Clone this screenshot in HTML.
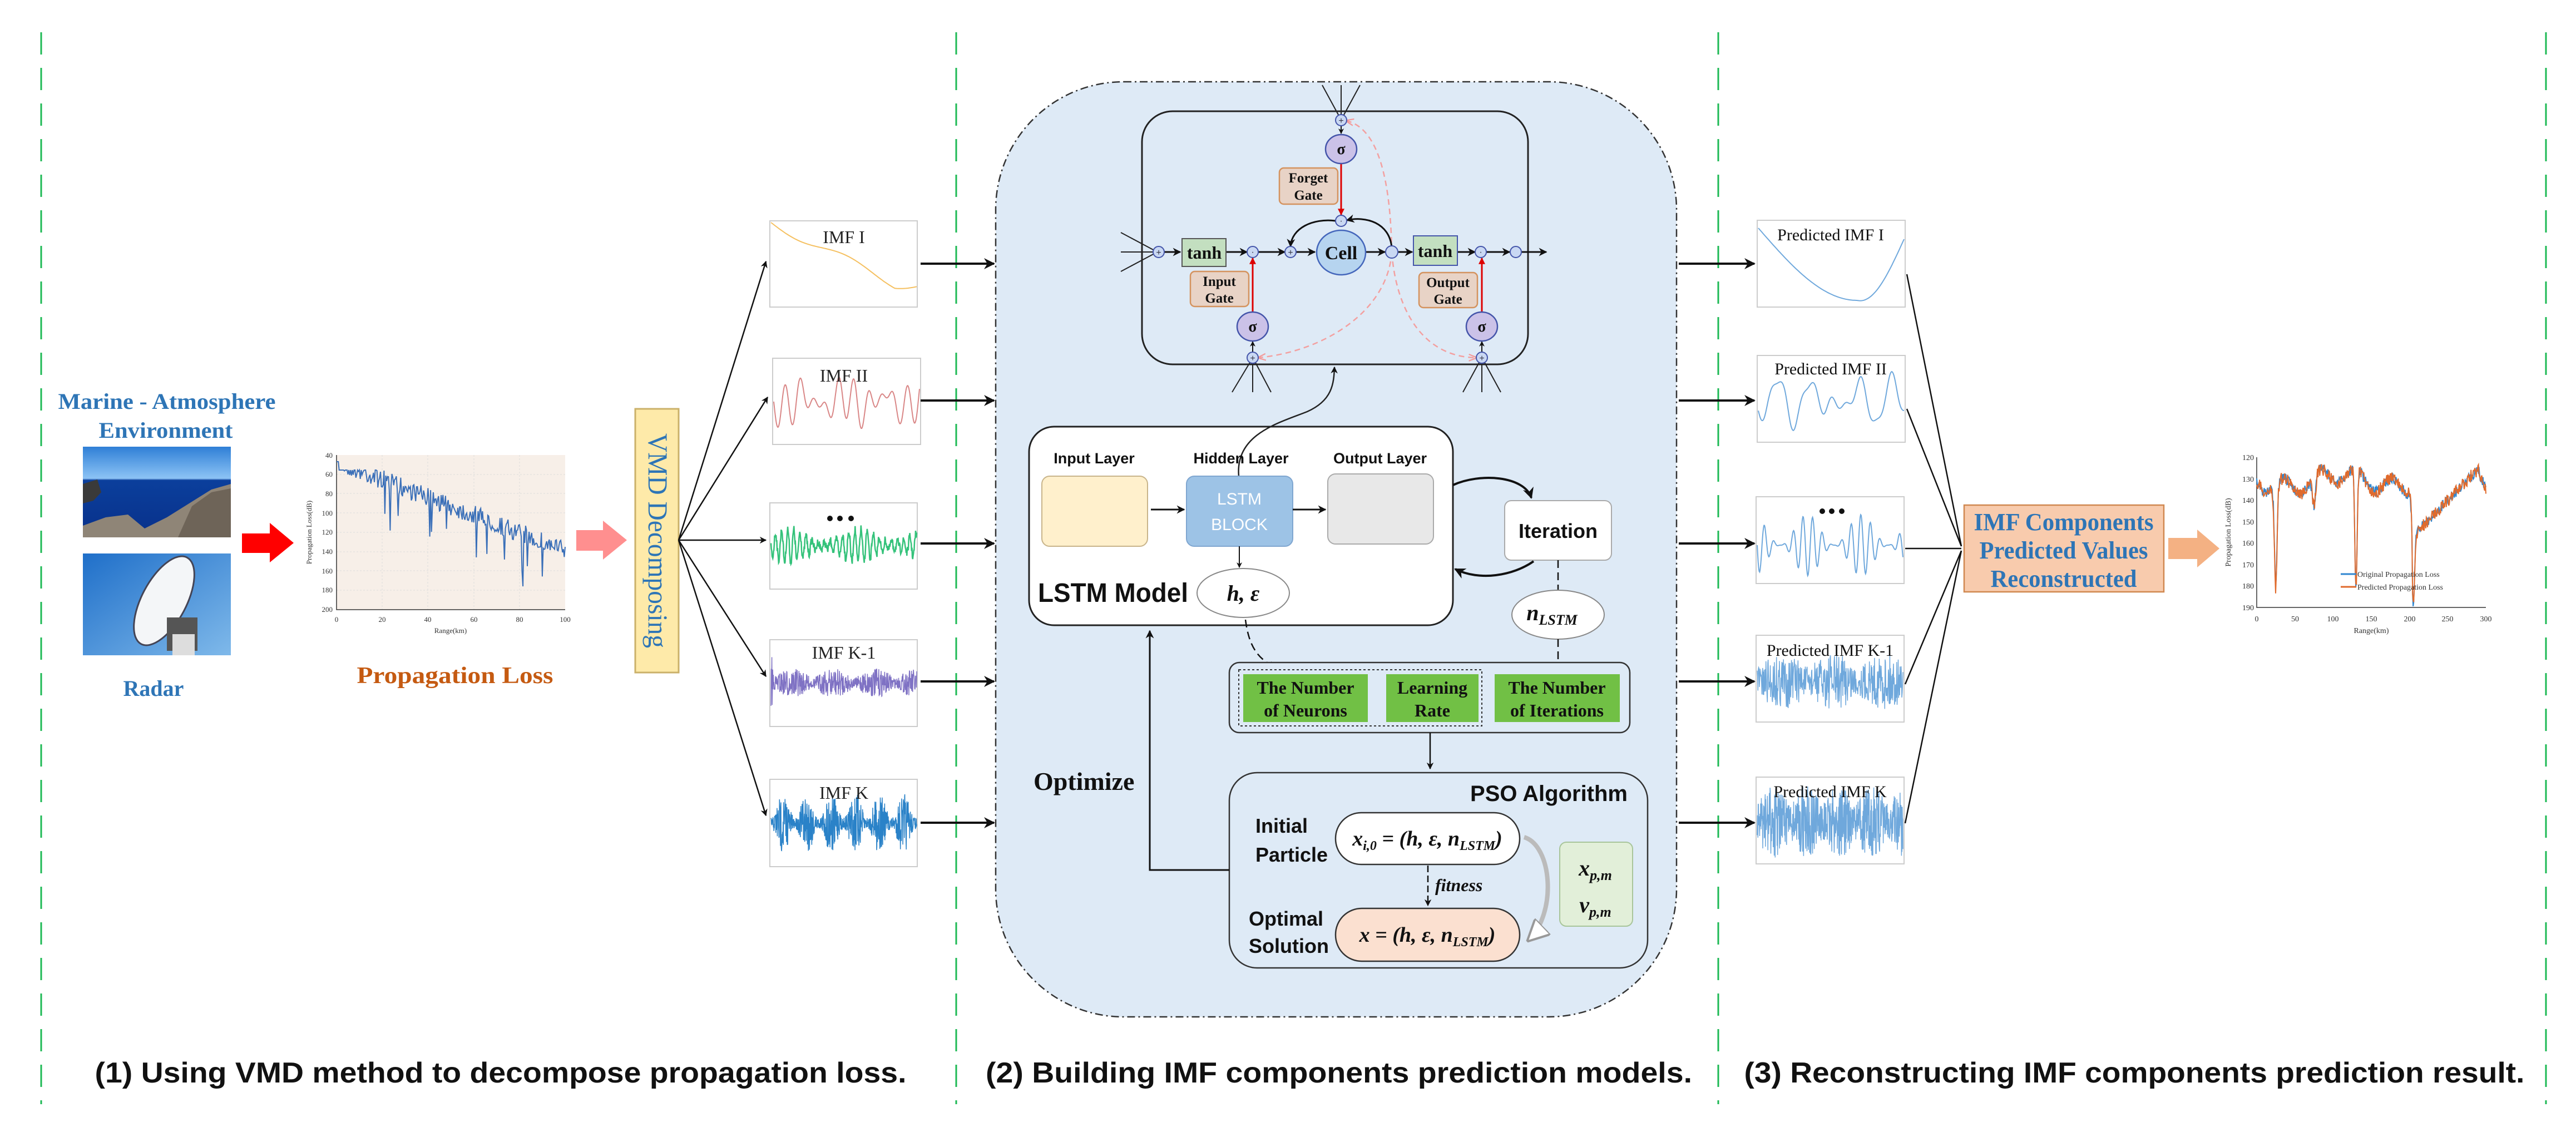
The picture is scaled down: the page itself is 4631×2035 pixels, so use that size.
<!DOCTYPE html>
<html><head><meta charset="utf-8"><style>
html,body{margin:0;padding:0;background:#fff;}
svg{display:block;}
.serif{font-family:"Liberation Serif",serif;}
.sans{font-family:"Liberation Sans",sans-serif;}
</style></head><body>
<svg id="s" width="4631" height="2035" viewBox="0 0 4631 2035" xmlns="http://www.w3.org/2000/svg">
<defs>
<marker id="ah" viewBox="0 0 10 10" refX="9" refY="5" markerWidth="5" markerHeight="5" orient="auto-start-reverse"><path d="M0,0 L10,5 L0,10 L3,5 z" fill="#111"/></marker>
<marker id="ahr" viewBox="0 0 10 10" refX="9" refY="5" markerWidth="4" markerHeight="4" orient="auto"><path d="M0,0 L10,5 L0,10 z" fill="#d00"/></marker>
<marker id="ahp" viewBox="0 0 10 10" refX="9" refY="5" markerWidth="6" markerHeight="6" orient="auto"><path d="M0,1 L10,5 L0,9" fill="none" stroke="#f39a9a" stroke-width="1.5"/></marker>
<marker id="ahg" viewBox="0 0 10 10" refX="9" refY="5" markerWidth="5" markerHeight="5" orient="auto"><path d="M0,0 L10,5 L0,10 z" fill="#fff" stroke="#999"/></marker>
<linearGradient id="sky" x1="0" y1="0" x2="0" y2="1"><stop offset="0" stop-color="#2f7fd6"/><stop offset="0.35" stop-color="#8cc3f5"/><stop offset="0.37" stop-color="#0b3f9c"/><stop offset="1" stop-color="#08308a"/></linearGradient>
<linearGradient id="sky2" x1="0" y1="0" x2="1" y2="1"><stop offset="0" stop-color="#1f6fc9"/><stop offset="1" stop-color="#7fb9ea"/></linearGradient>
</defs>

<g stroke="#1db954" stroke-width="3" stroke-dasharray="40,24">
<line x1="74" y1="58" x2="74" y2="1985"/>
<line x1="1719" y1="58" x2="1719" y2="1985"/>
<line x1="3089" y1="58" x2="3089" y2="1985"/>
<line x1="4577" y1="58" x2="4577" y2="1985"/>
</g>

<text class="serif" x="300" y="735" font-size="40" font-weight="bold" fill="#2e75b6" text-anchor="middle" textLength="391" lengthAdjust="spacingAndGlyphs">Marine - Atmosphere</text>
<text class="serif" x="298" y="787" font-size="40" font-weight="bold" fill="#2e75b6" text-anchor="middle" textLength="241" lengthAdjust="spacingAndGlyphs">Environment</text>
<rect x="149" y="803" width="266" height="163" fill="url(#sky)"/>
<path d="M149,870 L175,862 L182,885 L168,900 L149,905 Z" fill="#3a3a3a"/>
<path d="M149,966 L149,945 L190,930 L230,925 L260,950 L300,930 L340,905 L380,880 L415,870 L415,966 Z" fill="#8f8577"/>
<path d="M320,966 L345,910 L380,885 L415,878 L415,966 Z" fill="#6e6458"/>
<rect x="149" y="995" width="266" height="183" fill="url(#sky2)"/>
<ellipse cx="295" cy="1080" rx="40" ry="88" transform="rotate(28 295 1080)" fill="#f4f6f8" stroke="#445" stroke-width="3"/>
<rect x="300" y="1110" width="55" height="60" fill="#555"/>
<rect x="310" y="1140" width="40" height="38" fill="#ddd"/>
<text class="serif" x="276" y="1251" font-size="40" font-weight="bold" fill="#2e75b6" text-anchor="middle">Radar</text>
<path d="M435,959 L485,959 L485,940 L528,976 L485,1011 L485,994 L435,994 Z" fill="#f00"/>
<rect x="605" y="818" width="411" height="278" fill="#f7efe8"/>
<g stroke="#ddd" stroke-width="1" stroke-dasharray="3,3">
<line x1="605" y1="853" x2="1016" y2="853"/><line x1="605" y1="887" x2="1016" y2="887"/><line x1="605" y1="922" x2="1016" y2="922"/><line x1="605" y1="957" x2="1016" y2="957"/><line x1="605" y1="992" x2="1016" y2="992"/><line x1="605" y1="1026" x2="1016" y2="1026"/><line x1="605" y1="1061" x2="1016" y2="1061"/>
<line x1="687" y1="818" x2="687" y2="1096"/><line x1="769" y1="818" x2="769" y2="1096"/><line x1="852" y1="818" x2="852" y2="1096"/><line x1="934" y1="818" x2="934" y2="1096"/>
</g>
<path d="M605,818 L605,1096 L1016,1096" fill="none" stroke="#333" stroke-width="1.5"/>
<path id="pl" fill="none" stroke="#3a6fb8" stroke-width="2"/>
<g class="serif" font-size="13" fill="#333" text-anchor="end">
<text x="598" y="823">40</text><text x="598" y="857">60</text><text x="598" y="892">80</text><text x="598" y="927">100</text><text x="598" y="961">120</text><text x="598" y="996">140</text><text x="598" y="1031">160</text><text x="598" y="1065">180</text><text x="598" y="1100">200</text>
</g>
<g class="serif" font-size="13" fill="#333" text-anchor="middle">
<text x="605" y="1118">0</text><text x="687" y="1118">20</text><text x="769" y="1118">40</text><text x="852" y="1118">60</text><text x="934" y="1118">80</text><text x="1016" y="1118">100</text>
<text x="810" y="1138">Range(km)</text>
<text transform="translate(560 957) rotate(-90)">Propagation Loss(dB)</text>
</g>
<text class="serif" x="818" y="1228" font-size="42" font-weight="bold" fill="#c55a11" text-anchor="middle" textLength="353" lengthAdjust="spacingAndGlyphs">Propagation Loss</text>
<path d="M1036,953 L1084,953 L1084,936 L1127,971 L1084,1006 L1084,990 L1036,990 Z" fill="#ff8f8f"/>
<rect x="1142" y="735" width="78" height="474" fill="#feeaa9" stroke="#cbb16a" stroke-width="3"/>
<text class="serif" transform="translate(1166 972) rotate(90)" font-size="50" fill="#2e75b6" text-anchor="middle" textLength="386" lengthAdjust="spacingAndGlyphs">VMD Decomposing</text>
<g stroke="#111" stroke-width="2.5" fill="none" marker-end="url(#ah)">
<line x1="1220" y1="971" x2="1377" y2="470"/>
<line x1="1220" y1="971" x2="1380" y2="714"/>
<line x1="1220" y1="971" x2="1377" y2="971"/>
<line x1="1220" y1="971" x2="1377" y2="1216"/>
<line x1="1220" y1="971" x2="1377" y2="1466"/>
</g>
<g fill="#fff" stroke="#ccc" stroke-width="2">
<rect x="1384" y="397" width="265" height="155"/>
<rect x="1389" y="644" width="266" height="155"/>
<rect x="1384" y="904" width="265" height="155"/>
<rect x="1384" y="1150" width="265" height="156"/>
<rect x="1384" y="1401" width="265" height="157"/>
</g>
<path id="w1" fill="none" stroke="#f5c060" stroke-width="2"/>
<path id="w2" fill="none" stroke="#d98686" stroke-width="2"/>
<path id="w3" fill="none" stroke="#34c27a" stroke-width="2.5"/>
<path id="w4" fill="none" stroke="#7f72c4" stroke-width="1.5"/>
<path id="w5" fill="none" stroke="#2a82c8" stroke-width="1.5"/>
<g class="serif" font-size="32" fill="#222" text-anchor="middle">
<text x="1517" y="437">IMF I</text>
<text x="1517" y="686">IMF II</text>
<text x="1517" y="1184">IMF K-1</text>
<text x="1517" y="1436">IMF K</text>
</g>
<g fill="#111"><circle cx="1492" cy="932" r="5"/><circle cx="1510" cy="932" r="5"/><circle cx="1530" cy="932" r="5"/></g>
<g stroke="#111" stroke-width="4" marker-end="url(#ah)">
<line x1="1655" y1="474" x2="1787" y2="474"/>
<line x1="1655" y1="720" x2="1787" y2="720"/>
<line x1="1655" y1="977" x2="1787" y2="977"/>
<line x1="1655" y1="1225" x2="1787" y2="1225"/>
<line x1="1655" y1="1479" x2="1787" y2="1479"/>
</g>

<rect x="1790" y="147" width="1224" height="1681" rx="230" fill="#deeaf6" stroke="#333" stroke-width="2.5" stroke-dasharray="14,6,3,6"/>
<rect x="2053" y="200" width="694" height="455" rx="55" fill="none" stroke="#222" stroke-width="3"/>
<g stroke="#222" stroke-width="2" fill="none">
<line x1="2377" y1="153" x2="2408" y2="210"/><line x1="2411" y1="153" x2="2411" y2="208"/><line x1="2445" y1="153" x2="2414" y2="210"/>
<line x1="2015" y1="418" x2="2075" y2="450"/><line x1="2015" y1="453" x2="2074" y2="453"/><line x1="2015" y1="488" x2="2075" y2="456"/>
<line x1="2215" y1="705" x2="2248" y2="650"/><line x1="2252" y1="705" x2="2252" y2="651"/><line x1="2285" y1="705" x2="2256" y2="650"/>
<line x1="2630" y1="705" x2="2660" y2="650"/><line x1="2664" y1="705" x2="2664" y2="651"/><line x1="2698" y1="705" x2="2668" y2="650"/>
</g>
<g stroke="#f3a0a0" stroke-width="2.5" fill="none" stroke-dasharray="10,7">
<path d="M2502,453 C2495,560 2380,632 2262,643" marker-end="url(#ahp)"/>
<path d="M2502,453 C2510,560 2560,642 2654,643" marker-end="url(#ahp)"/>
<path d="M2502,453 C2500,330 2480,230 2420,217" marker-end="url(#ahp)"/>
</g>
<g stroke="#111" stroke-width="3" fill="none" marker-end="url(#ah)">
<line x1="2093" y1="453" x2="2122" y2="453"/>
<line x1="2204" y1="453" x2="2242" y2="453"/>
<line x1="2262" y1="453" x2="2310" y2="453"/>
<line x1="2330" y1="453" x2="2364" y2="453"/>
<line x1="2456" y1="453" x2="2490" y2="453"/>
<line x1="2514" y1="453" x2="2539" y2="453"/>
<line x1="2620" y1="453" x2="2652" y2="453"/>
<line x1="2672" y1="453" x2="2714" y2="453"/>
<line x1="2736" y1="453" x2="2780" y2="453"/>
<path d="M2502,445 C2498,400 2455,388 2421,396"/>
<path d="M2401,397 C2360,392 2322,410 2320,443"/>
<line x1="2411" y1="226" x2="2411" y2="240" stroke-width="2"/>
<line x1="2252" y1="633" x2="2252" y2="614" stroke-width="2"/>
<line x1="2664" y1="633" x2="2664" y2="614" stroke-width="2"/>
</g>
<g stroke="#d00" stroke-width="3" marker-end="url(#ahr)">
<line x1="2411" y1="295" x2="2411" y2="386"/>
<line x1="2252" y1="560" x2="2252" y2="464"/>
<line x1="2664" y1="560" x2="2664" y2="464"/>
</g>
<g fill="#c9d8f3" stroke="#4455aa" stroke-width="2">
<circle cx="2083" cy="453" r="10"/><circle cx="2252" cy="453" r="10"/><circle cx="2320" cy="453" r="10"/><circle cx="2502" cy="453" r="11"/><circle cx="2662" cy="453" r="10"/><circle cx="2725" cy="453" r="10"/>
<circle cx="2411" cy="216" r="10"/><circle cx="2411" cy="397" r="10"/><circle cx="2252" cy="643" r="10"/><circle cx="2664" cy="643" r="10"/>
</g>
<g class="sans" font-size="16" fill="#334" text-anchor="middle">
<text x="2083" y="459">+</text><text x="2320" y="459">+</text><text x="2411" y="222">+</text><text x="2252" y="649">+</text><text x="2664" y="649">+</text>
<text x="2252" y="458">·</text><text x="2411" y="402">·</text><text x="2662" y="458">·</text>
</g>
<rect x="2125" y="429" width="79" height="50" fill="#c3dfc0" stroke="#555" stroke-width="2"/>
<rect x="2541" y="424" width="79" height="53" fill="#c3dfc0" stroke="#4455aa" stroke-width="2"/>
<g class="serif" font-weight="bold" font-size="32" fill="#111" text-anchor="middle">
<text x="2165" y="465">tanh</text><text x="2580" y="462">tanh</text>
</g>
<ellipse cx="2411" cy="454" rx="44" ry="40" fill="#b6d4ef" stroke="#4466bb" stroke-width="2.5"/>
<text class="serif" x="2411" y="466" font-size="34" font-weight="bold" fill="#111" text-anchor="middle">Cell</text>
<g fill="#cbc2e8" stroke="#4455aa" stroke-width="2.5">
<ellipse cx="2411" cy="268" rx="28" ry="26"/><ellipse cx="2252" cy="587" rx="28" ry="26"/><ellipse cx="2664" cy="587" rx="28" ry="26"/>
</g>
<g class="serif" font-weight="bold" font-size="28" fill="#111" text-anchor="middle">
<text x="2411" y="277">σ</text><text x="2252" y="596">σ</text><text x="2664" y="596">σ</text>
</g>
<g fill="#e8d3c6" stroke="#d4935f" stroke-width="2.5">
<rect x="2300" y="302" width="105" height="65" rx="8"/>
<rect x="2140" y="488" width="105" height="63" rx="8"/>
<rect x="2551" y="490" width="105" height="63" rx="8"/>
</g>
<g class="serif" font-weight="bold" font-size="25" fill="#111" text-anchor="middle">
<text x="2352" y="328">Forget</text><text x="2352" y="359">Gate</text>
<text x="2192" y="514">Input</text><text x="2192" y="544">Gate</text>
<text x="2603" y="516">Output</text><text x="2603" y="546">Gate</text>
</g>
<rect x="1850" y="767" width="762" height="357" rx="45" fill="#fff" stroke="#222" stroke-width="3"/>
<path d="M2227,856 C2220,780 2300,760 2350,740 C2395,720 2398,690 2399,660" fill="none" stroke="#222" stroke-width="2.5" marker-end="url(#ah)"/>
<g class="sans" font-weight="bold" font-size="27" fill="#111" text-anchor="middle">
<text x="1967" y="833">Input Layer</text><text x="2231" y="833">Hidden Layer</text><text x="2481" y="833">Output Layer</text>
</g>
<rect x="1873" y="856" width="190" height="126" rx="14" fill="#fff0cc" stroke="#c8b48a" stroke-width="2"/>
<rect x="2133" y="856" width="191" height="126" rx="14" fill="#9dc3e6" stroke="#7fa6d0" stroke-width="2"/>
<rect x="2387" y="852" width="190" height="126" rx="14" fill="#e8e8e8" stroke="#aaa" stroke-width="2"/>
<g class="sans" font-size="30" fill="#fff" text-anchor="middle"><text x="2228" y="907">LSTM</text><text x="2228" y="953">BLOCK</text></g>
<g stroke="#111" stroke-width="3" marker-end="url(#ah)">
<line x1="2069" y1="916" x2="2129" y2="916"/>
<line x1="2324" y1="916" x2="2383" y2="916"/>
<line x1="2228" y1="982" x2="2228" y2="1020" stroke-width="2"/>
</g>
<text class="sans" x="1866" y="1082" font-size="48" font-weight="bold" fill="#111" textLength="270" lengthAdjust="spacingAndGlyphs">LSTM Model</text>
<ellipse cx="2235" cy="1066" rx="83" ry="44" fill="#fff" stroke="#888" stroke-width="2"/>
<text class="serif" x="2235" y="1080" font-size="40" font-weight="bold" font-style="italic" fill="#111" text-anchor="middle">h, ε</text>
<rect x="2705" y="900" width="192" height="107" rx="12" fill="#fff" stroke="#aaa" stroke-width="2"/>
<text class="sans" x="2801" y="967" font-size="36" font-weight="bold" fill="#111" text-anchor="middle">Iteration</text>
<path d="M2612,872 C2660,850 2740,855 2753,895" fill="none" stroke="#111" stroke-width="4" marker-end="url(#ah)"/>
<path d="M2757,1009 C2720,1035 2660,1045 2616,1023" fill="none" stroke="#111" stroke-width="4" marker-end="url(#ah)"/>
<line x1="2801" y1="1007" x2="2801" y2="1061" stroke="#111" stroke-width="2.5" stroke-dasharray="14,8"/>
<ellipse cx="2801" cy="1105" rx="83" ry="44" fill="#fff" stroke="#888" stroke-width="2"/>
<text class="serif" x="2790" y="1115" font-size="40" font-weight="bold" font-style="italic" fill="#111" text-anchor="middle">n<tspan font-size="26" dy="8">LSTM</tspan></text>
<line x1="2801" y1="1149" x2="2801" y2="1203" stroke="#111" stroke-width="2.5" stroke-dasharray="14,8" marker-end="url(#ah)"/>
<path d="M2239,1114 C2245,1160 2260,1185 2293,1199" fill="none" stroke="#111" stroke-width="2.5" stroke-dasharray="14,8" marker-end="url(#ah)"/>
<rect x="2210" y="1191" width="720" height="126" rx="18" fill="#deeaf6" stroke="#333" stroke-width="2.5"/>
<rect x="2227" y="1204" width="437" height="101" fill="none" stroke="#333" stroke-width="2" stroke-dasharray="4,4"/>
<g fill="#71c045"><rect x="2235" y="1212" width="224" height="86"/><rect x="2492" y="1212" width="166" height="86"/><rect x="2687" y="1212" width="225" height="86"/></g>
<g class="serif" font-weight="bold" font-size="32" fill="#111" text-anchor="middle">
<text x="2347" y="1247">The Number</text><text x="2347" y="1288">of Neurons</text>
<text x="2575" y="1247">Learning</text><text x="2575" y="1288">Rate</text>
<text x="2799" y="1247">The Number</text><text x="2799" y="1288">of Iterations</text>
</g>
<line x1="2571" y1="1317" x2="2571" y2="1382" stroke="#111" stroke-width="2.5" marker-end="url(#ah)"/>
<rect x="2210" y="1389" width="752" height="351" rx="50" fill="#deeaf6" stroke="#333" stroke-width="2.5"/>
<text class="sans" x="2926" y="1440" font-size="40" font-weight="bold" fill="#111" text-anchor="end">PSO Algorithm</text>
<g class="sans" font-weight="bold" font-size="36" fill="#111">
<text x="2257" y="1497">Initial</text><text x="2257" y="1549">Particle</text>
<text x="2245" y="1664">Optimal</text><text x="2245" y="1713">Solution</text>
</g>
<rect x="2401" y="1461" width="331" height="93" rx="46" fill="#fff" stroke="#333" stroke-width="2.5"/>
<rect x="2401" y="1633" width="331" height="95" rx="47" fill="#fbe0d0" stroke="#333" stroke-width="2.5"/>
<text class="serif" x="2566" y="1520" font-size="38" font-weight="bold" font-style="italic" fill="#111" text-anchor="middle">x<tspan font-size="24" dy="8">i,0</tspan><tspan dy="-8"> = (h, ε, n</tspan><tspan font-size="24" dy="8">LSTM</tspan><tspan dy="-8">)</tspan></text>
<text class="serif" x="2566" y="1693" font-size="38" font-weight="bold" font-style="italic" fill="#111" text-anchor="middle">x = (h, ε, n<tspan font-size="24" dy="8">LSTM</tspan><tspan dy="-8">)</tspan></text>
<line x1="2567" y1="1556" x2="2567" y2="1628" stroke="#111" stroke-width="2.5" stroke-dasharray="12,6" marker-end="url(#ah)"/>
<text class="serif" x="2580" y="1602" font-size="32" font-weight="bold" font-style="italic" fill="#111">fitness</text>
<rect x="2804" y="1514" width="131" height="151" rx="12" fill="#e2efd9" stroke="#a8c59a" stroke-width="2"/>
<text class="serif" x="2868" y="1574" font-size="40" font-weight="bold" font-style="italic" fill="#111" text-anchor="middle">x<tspan font-size="26" dy="8">p,m</tspan></text>
<text class="serif" x="2868" y="1640" font-size="40" font-weight="bold" font-style="italic" fill="#111" text-anchor="middle">v<tspan font-size="26" dy="8">p,m</tspan></text>
<path d="M2740,1505 C2790,1520 2800,1640 2748,1690" fill="none" stroke="#bbb" stroke-width="8" marker-end="url(#ahg)"/>
<text class="serif" x="1858" y="1420" font-size="46" font-weight="bold" fill="#111">Optimize</text>
<path d="M2210,1564 L2067,1564 L2067,1134" fill="none" stroke="#111" stroke-width="3" marker-end="url(#ah)"/>

<g stroke="#111" stroke-width="4" marker-end="url(#ah)">
<line x1="3018" y1="474" x2="3154" y2="474"/>
<line x1="3018" y1="720" x2="3154" y2="720"/>
<line x1="3018" y1="977" x2="3154" y2="977"/>
<line x1="3018" y1="1225" x2="3154" y2="1225"/>
<line x1="3018" y1="1479" x2="3154" y2="1479"/>
</g>
<g fill="#fff" stroke="#ccc" stroke-width="2">
<rect x="3159" y="396" width="266" height="156"/>
<rect x="3159" y="639" width="266" height="156"/>
<rect x="3157" y="893" width="266" height="156"/>
<rect x="3157" y="1142" width="266" height="156"/>
<rect x="3157" y="1397" width="266" height="156"/>
</g>
<path id="p1" fill="none" stroke="#6fa8dc" stroke-width="2"/>
<path id="p2" fill="none" stroke="#6fa8dc" stroke-width="2"/>
<path id="p3" fill="none" stroke="#6fa8dc" stroke-width="2"/>
<path id="p4" fill="none" stroke="#6fa8dc" stroke-width="1.5"/>
<path id="p5" fill="none" stroke="#6fa8dc" stroke-width="1.5"/>
<g class="serif" font-size="30" fill="#111" text-anchor="middle">
<text x="3291" y="432">Predicted IMF I</text>
<text x="3291" y="673">Predicted IMF II</text>
<text x="3290" y="1179">Predicted IMF K-1</text>
<text x="3290" y="1433">Predicted IMF K</text>
</g>
<g fill="#111"><circle cx="3276" cy="919" r="5"/><circle cx="3293" cy="919" r="5"/><circle cx="3311" cy="919" r="5"/></g>
<g stroke="#111" stroke-width="2.5" fill="none">
<line x1="3428" y1="493" x2="3526" y2="982"/>
<line x1="3428" y1="735" x2="3526" y2="982"/>
<line x1="3425" y1="986" x2="3526" y2="986"/>
<line x1="3425" y1="1230" x2="3526" y2="990"/>
<line x1="3425" y1="1480" x2="3526" y2="990"/>
</g>
<rect x="3531" y="908" width="359" height="156" fill="#f8cbad" stroke="#d08850" stroke-width="2.5"/>
<g class="serif" font-size="44" font-weight="bold" fill="#2e75b6" text-anchor="middle">
<text x="3710" y="953" textLength="323" lengthAdjust="spacingAndGlyphs">IMF Components</text>
<text x="3710" y="1004" textLength="303" lengthAdjust="spacingAndGlyphs">Predicted Values</text>
<text x="3710" y="1055" textLength="263" lengthAdjust="spacingAndGlyphs">Reconstructed</text>
</g>
<path d="M3898,967 L3950,967 L3950,952 L3990,986 L3950,1020 L3950,1005 L3898,1005 Z" fill="#f4b183"/>
<path d="M4057,822 L4057,1092 L4469,1092" fill="none" stroke="#333" stroke-width="1.5"/>
<path id="fo" fill="none" stroke="#2e86d0" stroke-width="2"/>
<path id="fp" fill="none" stroke="#e06a2c" stroke-width="2"/>
<g class="serif" font-size="14" fill="#333" text-anchor="end">
<text x="4052" y="827">120</text><text x="4052" y="866">130</text><text x="4052" y="904">140</text><text x="4052" y="943">150</text><text x="4052" y="981">160</text><text x="4052" y="1020">170</text><text x="4052" y="1058">180</text><text x="4052" y="1097">190</text>
</g>
<g class="serif" font-size="14" fill="#333" text-anchor="middle">
<text x="4057" y="1117">0</text><text x="4126" y="1117">50</text><text x="4194" y="1117">100</text><text x="4263" y="1117">150</text><text x="4332" y="1117">200</text><text x="4400" y="1117">250</text><text x="4469" y="1117">300</text>
<text x="4263" y="1138">Range(km)</text>
<text transform="translate(4010 957) rotate(-90)">Propagation Loss(dB)</text>
</g>
<line x1="4208" y1="1032" x2="4236" y2="1032" stroke="#2e86d0" stroke-width="3"/>
<line x1="4208" y1="1055" x2="4236" y2="1055" stroke="#e06a2c" stroke-width="3"/>
<g class="serif" font-size="14" fill="#333"><text x="4238" y="1037">Original Propagation Loss</text><text x="4238" y="1060">Predicted Propagation Loss</text></g>

<g class="sans" font-weight="bold" font-size="52" fill="#111" text-anchor="middle">
<text x="900" y="1946" textLength="1459" lengthAdjust="spacingAndGlyphs">(1) Using VMD method to decompose propagation loss.</text>
<text x="2407" y="1946" textLength="1270" lengthAdjust="spacingAndGlyphs">(2) Building IMF components prediction models.</text>
<text x="3837" y="1946" textLength="1403" lengthAdjust="spacingAndGlyphs">(3) Reconstructing IMF components prediction result.</text>
</g>
</svg>
<script>
var seed=7;function r(){seed=(seed*16807)%2147483647;return seed/2147483647;}
function P(id,x0,w,f,n){var d='';for(var i=0;i<=n;i++){var t=i/n;var y=f(t,i);d+=(i?'L':'M')+(x0+t*w).toFixed(1)+','+y.toFixed(1);}document.getElementById(id).setAttribute('d',d);}
P('pl',605,411,function(t){var b=850+t*160;if(t<0.01)return 830;var v=b-20+(r()-0.5)*35; if(r()<0.05)v+=50+r()*40; return Math.min(1085,Math.max(845,v));},260);
P('w1',1386,262,function(t){return 400+t*130+8*Math.sin(t*9)+(t>0.85?-(t-0.85)*120:0);},80);
P('w2',1391,262,function(t){return 722+42*Math.sin(t*60)*Math.sin(t*7+1)+12*Math.sin(t*23);},260);
P('w3',1386,262,function(t){return 981+30*Math.sin(t*150)*(0.6+0.4*Math.sin(t*13))+(r()-0.5)*15;},400);
P('w4',1386,262,function(t){var a=8+18*Math.abs(Math.sin(t*11));if(t<0.02)a=50;return 1228+(r()-0.5)*2*a;},500);
P('w5',1386,262,function(t){var a=10+45*Math.pow(Math.abs(Math.sin(t*19)),2);return 1480+(r()-0.5)*2*a;},600);
P('p1',3161,262,function(t){var m=0.68;var u=t<m?t/m:(1-t)/(1-m);return 540-130*(1-Math.sin(u*Math.PI/2))+ (t<m?0:20*(1-u));},120);
P('p2',3161,262,function(t){return 720+45*Math.sin(t*28+1)*Math.sin(t*5+0.5)+10*Math.sin(t*60);},200);
P('p3',3159,262,function(t){return 980+55*Math.sin(t*95)*(0.5+0.5*Math.sin(t*17+2));},300);
P('p4',3159,262,function(t){return 1225+(r()-0.5)*2*(25+25*Math.abs(Math.sin(t*9)));},400);
P('p5',3159,262,function(t){return 1478+(r()-0.5)*2*(30+35*Math.abs(Math.sin(t*14)));},600);
function g(t,c,w,h){return h*Math.exp(-Math.pow((t-c)/w,2));}
function db(t){var v;
 if(t<0.68){v=131+4*Math.sin(t*40)+3*Math.sin(t*13);}
 else{var u=(t-0.68)/0.29;v=157-32*Math.min(1,u);if(t>0.97)v=128+(t-0.97)*200;}
 v+=g(t,0.083,0.008,48)+g(t,0.25,0.01,14)+g(t,0.433,0.007,56)+g(t,0.683,0.008,32);
 return v;}
var base=[];for(var i=0;i<=400;i++)base.push(db(i/400));
function Y(v){return Math.min(1090,822+(v-120)*3.86);}
P('fo',4057,412,function(t,i){return Y(base[i]+(r()-0.5)*5);},400);
P('fp',4057,412,function(t,i){return Y(base[i]+(r()-0.5)*6);},400);
</script>
</body></html>
